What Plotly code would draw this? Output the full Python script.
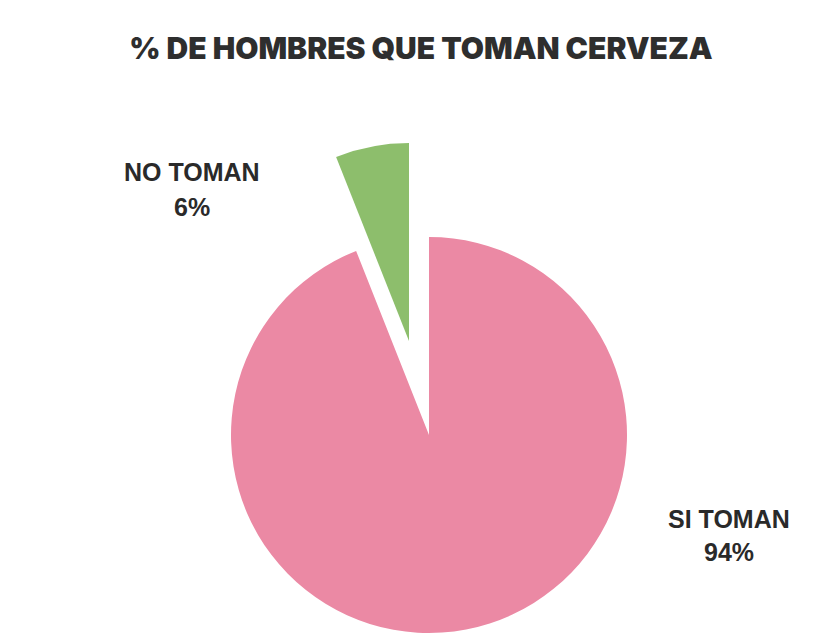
import plotly.graph_objects as go

# Survey result: share of men who drink beer
labels = ["SI TOMAN", "NO TOMAN"]
values = [94, 6]
colors = ["#EB89A4", "#8DBE6C"]
title_text = "% DE HOMBRES QUE TOMAN CERVEZA"

W, H = 818, 634
R = 198  # pie radius in px


def px_domain(cx, cy, r):
    """Pie domain (paper fractions) for a pie of radius r centred at (cx, cy) px."""
    return dict(
        x=[(cx - r) / W, (cx + r) / W],
        y=[1 - (cy + r) / H, 1 - (cy - r) / H],
    )


def slice_colors(visible_index):
    return [c if i == visible_index else "rgba(0,0,0,0)" for i, c in enumerate(colors)]


fig = go.Figure()

# main body of the pie ("SI TOMAN")
fig.add_trace(go.Pie(
    labels=labels, values=values, sort=False, direction="clockwise", rotation=0,
    marker=dict(colors=slice_colors(0), line=dict(width=0)),
    textinfo="none", showlegend=False,
    domain=px_domain(429, 435, R),
))

# exploded slice ("NO TOMAN"), drawn offset along its bisector
fig.add_trace(go.Pie(
    labels=labels, values=values, sort=False, direction="clockwise", rotation=0,
    marker=dict(colors=slice_colors(1), line=dict(width=0)),
    textinfo="none", showlegend=False,
    domain=px_domain(409, 341, R),
))

total = sum(values)
pct = [round(v / total * 100) for v in values]
label_font = dict(family="Liberation Sans, Arial, sans-serif", size=25, color="#2a2a2a")

# data-label positions (px): name line, percent line
label_pos = {
    0: (729, 519, 552),
    1: (192, 172, 207),
}
annotations = []
for i, (x, y1, y2) in label_pos.items():
    annotations.append(dict(
        x=x / W, y=1 - y1 / H, xref="paper", yref="paper",
        text=f"<b>{labels[i]}</b>", showarrow=False,
        xanchor="center", yanchor="middle", font=label_font,
    ))
    annotations.append(dict(
        x=x / W, y=1 - y2 / H, xref="paper", yref="paper",
        text=f"<b>{pct[i]}%</b>", showarrow=False,
        xanchor="center", yanchor="middle", font=label_font,
    ))

fig.update_layout(
    width=W, height=H,
    margin=dict(l=0, r=0, t=0, b=0),
    paper_bgcolor="white", plot_bgcolor="white",
    title=dict(
        text=title_text,
        x=421 / W, xanchor="center", y=1 - 48 / H, yanchor="middle",
        font=dict(family="Inter, DejaVu Sans, sans-serif", size=30,
                  weight=900, color="#2e2e2e"),
    ),
    annotations=annotations,
)

fig.write_html("out.html")
